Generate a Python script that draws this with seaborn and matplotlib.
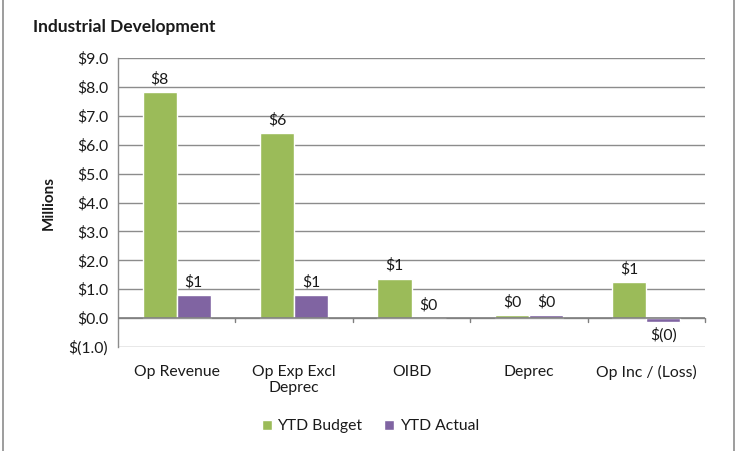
import numpy as np
import pandas as pd
import matplotlib
matplotlib.use("Agg")
import matplotlib.pyplot as plt
from matplotlib.lines import Line2D
from matplotlib.ticker import FuncFormatter
import seaborn as sns

categories = ["Op Revenue", "Op Exp Excl\nDeprec", "OIBD", "Deprec", "Op Inc / (Loss)"]
ytd_budget = [7.83, 6.42, 1.37, 0.12, 1.24]
ytd_actual = [0.81, 0.81, 0.0, 0.10, -0.14]
series = ["YTD Budget", "YTD Actual"]
colors = ["#9BBB59", "#8064A2"]

df = pd.DataFrame({
    "category": categories * 2,
    "value": ytd_budget + ytd_actual,
    "series": [series[0]] * len(categories) + [series[1]] * len(categories),
})

sns.set_style("white")
plt.rcParams["font.family"] = ["Lato", "DejaVu Sans"]
grid_col = "#8c8c8c"
text_col = "#1a1a1a"
fs = 11.3


def money_tick(v, pos):
    if v < -1e-9:
        return f"$({abs(v):.1f})"
    return f"${abs(v):.1f}"


def money_label(v):
    if v < 0:
        return f"$({abs(round(v))})"
    return f"${round(v)}"


fig = plt.figure(figsize=(7.37, 4.51), dpi=100)
ax = fig.add_axes([118 / 737, 1 - 347 / 451, (705 - 118) / 737, (347 - 58) / 451])

sns.barplot(data=df, x="category", y="value", hue="series", palette=colors,
            width=0.58, saturation=1, ax=ax, zorder=3, legend=True)

ax.set_ylim(-1, 9)
ax.set_yticks(np.arange(-1, 9.5, 1))
ax.yaxis.set_major_formatter(FuncFormatter(money_tick))
ax.yaxis.grid(True, color=grid_col, linewidth=1.0, zorder=0)
ax.set_axisbelow(True)
ax.set_xlim(-0.5, len(categories) - 0.5)

for s in ["top", "right", "bottom"]:
    ax.spines[s].set_visible(False)
ax.spines["left"].set_color(grid_col)
ax.spines["left"].set_linewidth(1.0)
ax.axhline(0, color="#7f7f7f", linewidth=1.2, zorder=4)

# category separators on the zero line
for b in np.arange(0.5, len(categories), 1.0):
    ax.plot([b, b], [0, -0.15], color="#7f7f7f", linewidth=1.0, zorder=4, clip_on=False)

ax.tick_params(axis="y", direction="out", length=4, color=grid_col, labelsize=fs,
               labelcolor=text_col, pad=3)
ax.tick_params(axis="x", length=0, labelsize=fs, labelcolor=text_col, pad=13)
ax.set_xlabel("")
ax.set_ylabel("Millions", fontsize=11, fontweight="bold", color=text_col, labelpad=9)

for cont, vals in zip(ax.containers, [ytd_budget, ytd_actual]):
    ax.bar_label(cont, labels=[money_label(v) for v in vals], padding=4,
                 fontsize=fs, color=text_col)

leg = ax.legend(loc="center", bbox_to_anchor=(0.43, -0.275), ncol=2, frameon=False,
                fontsize=fs, handlelength=0.65, handleheight=0.65, handletextpad=0.35,
                columnspacing=1.4)
for t in leg.get_texts():
    t.set_color(text_col)

fig.text(33 / 737, 1 - 27 / 451, "Industrial Development", fontsize=12.5, fontweight="bold",
         color=text_col, va="center", ha="left")

# outer chart frame
fig.add_artist(Line2D([2.5 / 737, 2.5 / 737], [0, 1], transform=fig.transFigure,
                      color="#8c8c8c", linewidth=1.2))
fig.add_artist(Line2D([733.5 / 737, 733.5 / 737], [0, 1], transform=fig.transFigure,
                      color="#8c8c8c", linewidth=1.2))

fig.savefig("out.png", dpi=100)
